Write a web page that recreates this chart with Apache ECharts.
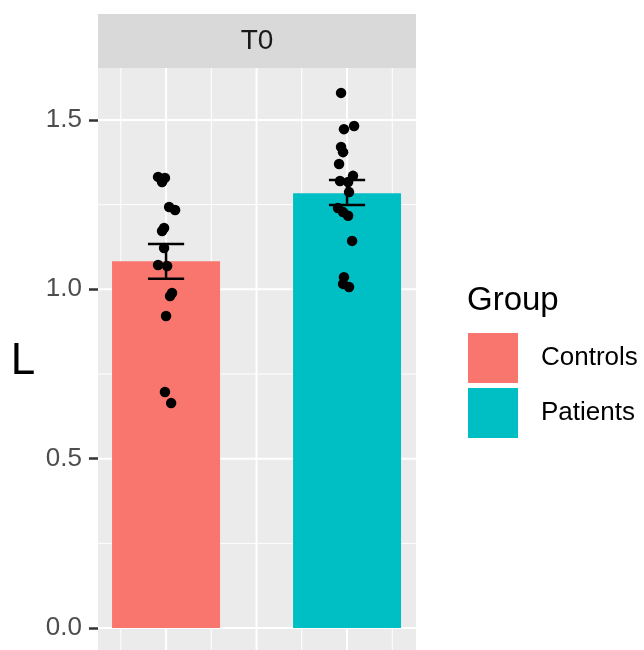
<!DOCTYPE html>
<html>
<head>
<meta charset="utf-8">
<script src="https://cdn.jsdelivr.net/npm/echarts@6/dist/echarts.min.js"></script>
<style>html,body{margin:0;padding:0;background:#fff}#c{width:644px;height:650px}</style>
</head>
<body>
<div id="c"></div>
<script>
// ---- data ----
const groups = ['Controls', 'Patients'];
const groupX = [1, 2];
const barMeans = [1.083, 1.284];
const errLow = [1.031, 1.249];
const errHigh = [1.134, 1.323];
const yTicks = [0, 0.5, 1.0, 1.5];
const facetLabel = 'T0';
const legendTitle = 'Group';
const yTitle = 'L';
const controlsY = [1.332, 1.329, 1.317, 1.243, 1.234, 1.181, 1.172, 1.122, 1.072, 1.069, 0.989, 0.980, 0.921, 0.697, 0.664];
const controlsJitter = [-0.044, -0.006, -0.022, 0.017, 0.050, -0.011, -0.022, -0.011, -0.044, 0.006, 0.033, 0.022, 0.000, -0.006, 0.028];
const patientsY = [1.580, 1.482, 1.473, 1.420, 1.405, 1.370, 1.335, 1.320, 1.317, 1.287, 1.240, 1.228, 1.217, 1.143, 1.036, 1.016, 1.007];
const patientsJitter = [-0.033, 0.039, -0.017, -0.033, -0.022, -0.044, 0.033, -0.039, 0.006, 0.011, -0.050, -0.022, 0.006, 0.028, -0.017, -0.022, 0.011];
const colors = ['#F8766D', '#00BFC4'];

const FONT = '"Liberation Sans", Arial, sans-serif';
const chart = echarts.init(document.getElementById('c'), null, {renderer: 'canvas'});

const hMajor = [0, 0.5, 1.0, 1.5];
const hMinor = [0.25, 0.75, 1.25];
const vMajor = [1, 1.5, 2];
const vMinor = [0.75, 1.25, 1.75, 2.25];

const points = [];
controlsY.forEach((y, i) => points.push([groupX[0] + controlsJitter[i], y]));
patientsY.forEach((y, i) => points.push([groupX[1] + patientsJitter[i], y]));

const barSeries = groups.map((g, i) => ({
  name: g,
  type: 'bar',
  data: [[groupX[i], barMeans[i]]],
  barWidth: 108,
  barGap: '-100%',
  itemStyle: {color: colors[i]},
  z: 2,
  animation: false
}));

chart.setOption({
  animation: false,
  grid: {left: 98, right: 228, top: 68, bottom: 0, show: true, backgroundColor: '#EBEBEB', borderWidth: 0},
  xAxis: {type: 'value', min: 0.624, max: 2.381, show: false},
  yAxis: {
    type: 'value', min: -0.065, max: 1.6535,
    axisLine: {show: false},
    splitLine: {show: false},
    axisTick: {show: true, customValues: yTicks, length: 9, lineStyle: {color: '#333333', width: 2.5}},
    axisLabel: {customValues: yTicks, formatter: v => v.toFixed(1), fontSize: 26, color: '#4D4D4D', fontFamily: FONT, margin: 16}
  },
  legend: {
    data: groups,
    orient: 'vertical', left: 468, top: 333,
    itemWidth: 50, itemHeight: 50, itemGap: 5, icon: 'rect', padding: 0,
    textStyle: {fontSize: 26, color: '#000', fontFamily: FONT, padding: [0, 0, 0, 18]},
    selectedMode: false
  },
  graphic: [
    {type: 'rect', shape: {x: 98, y: 14, width: 318, height: 54}, style: {fill: '#D9D9D9'}},
    {type: 'text', x: 257, y: 41, style: {text: facetLabel, font: '28px ' + FONT, fill: '#1A1A1A', align: 'center', verticalAlign: 'middle'}},
    {type: 'text', x: 23, y: 362, style: {text: yTitle, font: '44px ' + FONT, fill: '#000', align: 'center', verticalAlign: 'middle'}},
    {type: 'text', x: 467, y: 301, style: {text: legendTitle, font: '33px ' + FONT, fill: '#000', align: 'left', verticalAlign: 'middle'}}
  ],
  series: [
    {type: 'custom', z: 0, silent: true, data: [[0]],
     renderItem: (params, api) => {
       const cs = params.coordSys;
       const kids = [];
       const hl = (v, w) => { const y = api.coord([1, v])[1]; kids.push({type: 'line', shape: {x1: cs.x, y1: y, x2: cs.x + cs.width, y2: y}, style: {stroke: '#fff', lineWidth: w}}); };
       const vl = (v, w) => { const x = api.coord([v, 0])[0]; kids.push({type: 'line', shape: {x1: x, y1: cs.y, x2: x, y2: cs.y + cs.height}, style: {stroke: '#fff', lineWidth: w}}); };
       hMinor.forEach(v => hl(v, 1));
       vMinor.forEach(v => vl(v, 1));
       hMajor.forEach(v => hl(v, 2));
       vMajor.forEach(v => vl(v, 2));
       return {type: 'group', children: kids};
     }},
    ...barSeries,
    {type: 'custom', z: 3, silent: true,
     data: groupX.map((x, i) => [x, errLow[i], errHigh[i]]),
     renderItem: (params, api) => {
       const x = api.value(0), lo = api.value(1), hi = api.value(2);
       const pLo = api.coord([x, lo]), pHi = api.coord([x, hi]);
       const l = api.coord([x - 0.1, lo])[0], r = api.coord([x + 0.1, lo])[0];
       const st = {stroke: '#000', lineWidth: 2.5};
       return {type: 'group', children: [
         {type: 'line', shape: {x1: pLo[0], y1: pLo[1], x2: pHi[0], y2: pHi[1]}, style: st},
         {type: 'line', shape: {x1: l, y1: pLo[1], x2: r, y2: pLo[1]}, style: st},
         {type: 'line', shape: {x1: l, y1: pHi[1], x2: r, y2: pHi[1]}, style: st}
       ]};
     }},
    {type: 'scatter', z: 4, silent: true, data: points, symbolSize: 10.5, itemStyle: {color: '#000', opacity: 1}}
  ]
});
</script>
</body>
</html>
